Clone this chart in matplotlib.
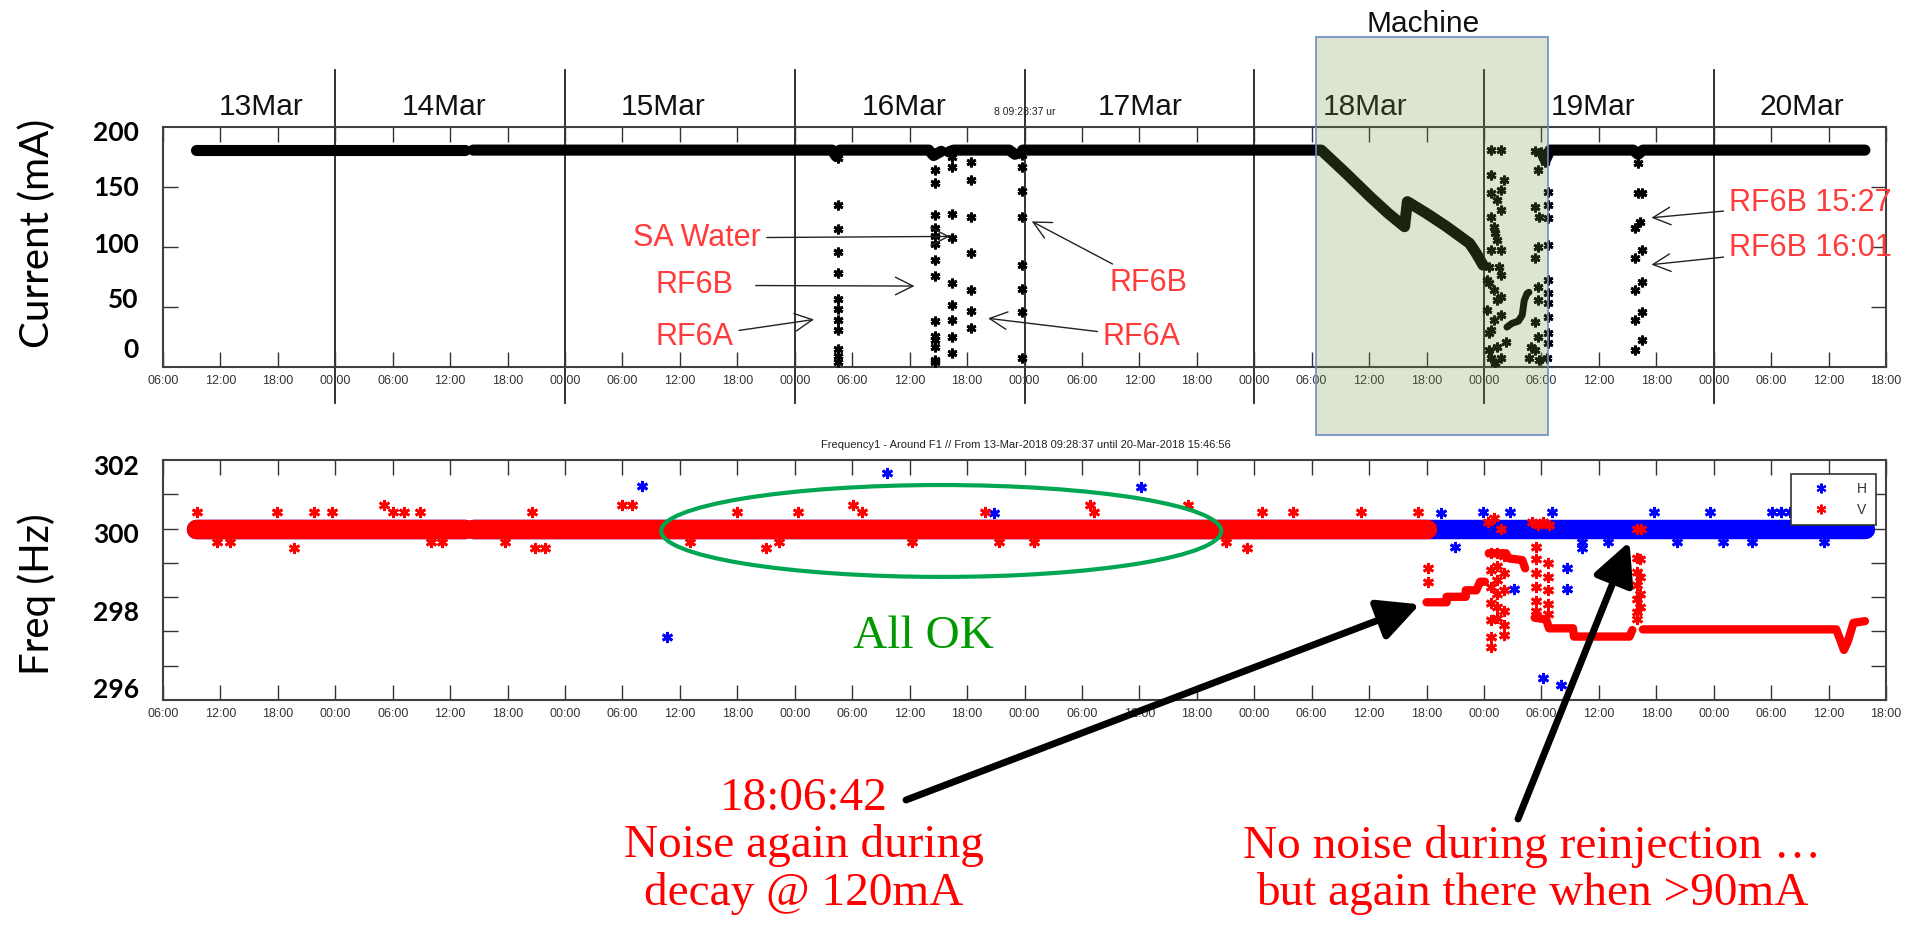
import matplotlib
matplotlib.use("Agg")
import matplotlib.pyplot as plt
from matplotlib.patches import Rectangle, Ellipse
from matplotlib.lines import Line2D
from matplotlib.transforms import blended_transform_factory

W, H = 1907, 935

# time axis: hours since 13-Mar 00:00
tick_hours = list(range(6, 187, 6))
tick_labels = [f"{h % 24:02d}:00" for h in tick_hours]
day_lines = [24, 48, 72, 96, 120, 144, 168]
day_names = ["13Mar", "14Mar", "15Mar", "16Mar", "17Mar", "18Mar", "19Mar", "20Mar"]
day_name_h = [16.2, 35.4, 58.2, 83.4, 108.1, 131.6, 155.4, 177.2]

cur_labels = ["200", "150", "100", "50", "0"]
freq_labels = ["302", "300", "298", "296"]

# ---------------- beam current (mA) ----------------
cur_band1_h = [9.47, 37.6]
cur_band1_ma = [180.5, 180.5]
cur_band2_h = [38.4, 75.9, 76.3, 76.7, 86.0, 86.5, 87.3]
cur_band2_ma = [180.5, 180.5, 175.5, 180.5, 180.5, 176.0, 179.5]
cur_band3_h = [88.1, 88.6, 94.4, 95.0]
cur_band3_ma = [179.0, 180.5, 180.5, 177.0]
cur_band4_h = [95.8, 127.0, 129.6, 132.1, 134.0, 135.7, 136.0, 138.0, 140.1, 142.5, 143.2, 143.9]
cur_band4_ma = [180.5, 180.5, 161.1, 141.7, 127.8, 116.7, 137.5, 127.8, 116.7, 102.8, 94.4, 84.7]
cur_band5_h = [150.4, 150.9, 159.6, 160.1, 160.6, 183.8]
cur_band5_ma = [172.0, 180.5, 180.5, 177.0, 180.5, 180.5]
cur_band6_h = [146.4, 146.9, 147.6, 148.0, 148.2, 148.5, 148.7]
cur_band6_ma = [33.0, 36.0, 38.0, 43.0, 55.0, 61.0, 62.0]

# beam trips (single samples)
trip_a_h, trip_a_ma = 76.5, [173.6, 134.7, 114.7, 95.3, 77.8, 56.4, 47.8, 38.9, 30.6, 14.5, 8.9, 4.2]
trip_b_h, trip_b_ma = 86.6, [163.9, 152.8, 126.4, 115.3, 108.9, 102.2, 88.9, 75.6, 38.3, 25.6, 22.2, 16.7, 5.6, 4.2]
trip_c_h, trip_c_ma = 88.4, [174.5, 166.1, 127.2, 107.0, 69.5, 51.4, 38.9, 25.0, 11.7]
trip_d_h, trip_d_ma = 90.4, [170.8, 155.6, 124.5, 95.0, 63.9, 46.7, 32.0]
trip_e_h, trip_e_ma = 95.7, [176.4, 166.7, 146.4, 125.0, 84.7, 64.7, 45.3, 7.5]

md_pts_h = [144.7, 145.8, 144.7, 146.1, 144.7, 145.4, 145.8, 144.7, 145.0, 145.4, 145.8, 144.7,
            144.5, 145.8, 144.5, 145.0, 145.8, 144.3, 145.0, 145.8, 144.7, 146.3, 144.5, 145.8,
            145.2, 144.3, 145.4, 145.6, 145.2, 145.8, 144.5, 145.4, 144.7,
            149.3, 149.8, 149.6, 149.3, 149.8, 149.6, 149.3, 149.6, 149.6, 149.3, 149.6, 148.9,
            149.3, 148.7, 149.8,
            150.7, 150.7, 150.7, 150.7, 150.7, 150.7, 150.7, 150.7, 150.7, 150.7, 150.6,
            150.0, 150.2, 150.4,
            160.1, 160.1, 160.5, 160.3, 159.8, 160.5, 159.8, 160.5, 159.8, 160.5, 159.8, 160.5, 159.8]
md_pts_ma = [180.6, 180.6, 159.7, 155.6, 144.4, 138.9, 130.6, 125.0, 116.7, 105.6, 97.2, 97.2,
             83.3, 76.4, 69.4, 63.9, 58.3, 47.2, 38.9, 43.1, 30.6, 20.8, 13.9, 6.9,
             2.8, 72.2, 55.6, 83.3, 111.0, 147.0, 27.8, 16.7, 6.9,
             180.0, 177.8, 163.9, 133.3, 125.0, 100.0, 90.3, 66.7, 55.6, 37.5, 25.0, 16.7,
             13.9, 6.9, 5.6,
             145.8, 134.7, 123.6, 101.4, 72.2, 61.1, 52.8, 41.7, 27.8, 19.4, 6.9,
             179.0, 175.0, 170.8,
             169.4, 144.4, 144.4, 120.8, 115.3, 97.2, 90.3, 70.8, 63.9, 45.8, 38.9, 22.2, 13.9]

# ---------------- frequency (Hz) ----------------
h_band1_h, h_band1_hz = [9.47, 37.6], [300.0, 300.0]
h_band2_h, h_band2_hz = [38.4, 183.8], [300.0, 300.0]
v_band1_h, v_band1_hz = [9.47, 37.6], [300.0, 300.0]
v_band2_h, v_band2_hz = [38.4, 138.1], [300.0, 300.0]
v_step1_h = [138.0, 140.1, 140.1, 142.1, 142.1, 143.2, 143.6, 144.1]
v_step1_hz = [297.85, 297.85, 298.01, 298.01, 298.2, 298.2, 298.45, 298.45]
v_step2_h = [144.5, 146.3, 146.6, 148.0, 148.3]
v_step2_hz = [299.28, 299.28, 299.13, 299.08, 298.84]
v_step3_h = [149.3, 150.5, 150.8, 153.3, 153.4, 159.2, 159.5]
v_step3_hz = [297.4, 297.35, 297.09, 297.09, 296.85, 296.85, 297.04]
v_step4_h = [160.6, 180.8, 181.3, 181.6, 182.0, 182.6, 183.8]
v_step4_hz = [297.06, 297.06, 296.7, 296.46, 296.7, 297.25, 297.3]

v_pts_h = [9.5, 17.9, 19.7, 21.8, 23.7, 29.1, 30.0, 31.2, 32.8, 34.0, 35.1, 44.5, 44.9, 45.9,
           54.0, 55.0, 11.6, 13.0, 41.7, 61.1, 66.0, 69.0, 70.4, 72.3, 78.1, 79.0, 84.2,
           91.9, 93.3, 97.0, 102.8, 103.3, 113.1, 117.1, 119.2, 120.8, 124.1, 131.2, 137.1,
           138.2, 138.2,
           144.7, 144.7, 144.7, 144.7, 144.7, 144.7, 144.7,
           145.4, 145.4, 145.4, 145.4, 145.4, 145.4,
           146.1, 146.1, 146.1, 146.1, 146.1, 146.1,
           144.4, 145.0, 145.8, 149.0, 149.6, 150.2, 150.8, 160.0, 160.4,
           149.4, 149.4, 149.4, 149.4, 149.4, 149.4,
           150.7, 150.7, 150.7, 150.7, 150.7,
           160.0, 160.0, 160.0, 160.0, 160.0, 160.0, 160.3, 160.3, 160.3, 160.3]
v_pts_hz = [300.49, 300.49, 299.42, 300.49, 300.49, 300.69, 300.49, 300.49, 300.49, 299.62,
            299.62, 300.49, 299.42, 299.42, 300.69, 300.69, 299.62, 299.62, 299.62, 299.62,
            300.49, 299.42, 299.62, 300.49, 300.69, 300.49, 299.62, 300.49, 299.62, 299.62,
            300.69, 300.49, 300.69, 299.62, 299.42, 300.49, 300.49, 300.49, 300.49,
            298.84, 298.43,
            299.28, 298.79, 298.31, 297.82, 297.33, 296.85, 296.56,
            299.28, 298.9, 298.5, 298.1, 297.7, 297.4,
            299.2, 298.7, 298.2, 297.6, 297.2, 296.9,
            300.2, 300.3, 300.0, 300.2, 300.1, 300.2, 300.1, 300.0, 300.0,
            299.47, 299.1, 298.7, 298.3, 297.9, 297.6,
            299.0, 298.6, 298.2, 297.8, 297.5,
            299.13, 298.74, 298.35, 297.96, 297.57, 297.37, 299.1, 298.6, 298.1, 297.7]

h_pts_h = [56.0, 58.7, 81.6, 108.2, 92.8, 95.6, 141.0, 143.9, 146.7, 147.1, 152.7, 152.7,
           150.2, 152.0, 154.2, 154.2, 151.1, 161.8, 167.6, 174.1, 175.0, 176.0, 169.0,
           164.2, 157.0, 179.5, 181.0, 139.5, 172.0, 183.0]
h_pts_hz = [301.25, 296.83, 301.63, 301.22, 300.45, 300.04, 299.47, 300.49, 300.49, 298.24,
            298.84, 298.24, 295.65, 295.44, 299.42, 299.6, 300.49, 300.49, 300.49, 300.49,
            300.49, 300.49, 299.6, 299.62, 299.6, 299.6, 300.5, 300.45, 299.6, 300.45]


def fx(px):
    return px / W


def fy(py):
    return 1 - py / H


star = (6, 2, 0)
plt.rcParams["font.family"] = ["Liberation Sans", "DejaVu Sans"]
fig = plt.figure(figsize=(W / 100, H / 100), dpi=100)
ax1 = fig.add_axes([fx(163), fy(366.7), 1723 / W, 240 / H])
ax2 = fig.add_axes([fx(163), fy(700), 1723 / W, 240 / H])

for ax in (ax1, ax2):
    ax.set_xlim(6, 186)
    ax.set_xticks(tick_hours)
    ax.set_xticklabels(tick_labels)
    ax.tick_params(axis="x", direction="in", length=11, width=1, top=True, bottom=True,
                   labelsize=9, pad=6, color="#333333", labelcolor="#333333")
    ax.tick_params(axis="y", direction="in", length=11, width=1, left=True, right=True,
                   labelleft=False, color="#333333")
    for sp in ax.spines.values():
        sp.set_linewidth(1.5)
        sp.set_color("#404040")

# ---- top panel
ax1.set_ylim(0, 200)
ax1.set_yticks([50, 100, 150])
band_kw = dict(color="black", lw=8, solid_capstyle="round", zorder=3)
ax1.plot(cur_band1_h, cur_band1_ma, **band_kw)
ax1.plot(cur_band2_h, cur_band2_ma, **band_kw)
ax1.plot(cur_band3_h, cur_band3_ma, **band_kw)
ax1.plot(cur_band4_h, cur_band4_ma, **band_kw)
ax1.plot(cur_band5_h, cur_band5_ma, **band_kw)
ax1.plot(cur_band6_h, cur_band6_ma, color="black", lw=5, solid_capstyle="round", zorder=3)
for th, tv in [(trip_a_h, trip_a_ma), (trip_b_h, trip_b_ma), (trip_c_h, trip_c_ma),
               (trip_d_h, trip_d_ma), (trip_e_h, trip_e_ma)]:
    ax1.plot([th] * len(tv), tv, ls="none", marker=star, ms=7, mew=2, color="black", zorder=3)
ax1.plot(md_pts_h, md_pts_ma, ls="none", marker=star, ms=7, mew=2, color="black", zorder=3)

for d in day_lines:
    ax1.axvline(d, ymin=-0.151, ymax=1.236, color="#222222", lw=1.3, clip_on=False, zorder=1)
for name, h in zip(day_names, day_name_h):
    ax1.text(h, 1.049, name, transform=ax1.get_xaxis_transform(), ha="center", va="baseline",
             fontsize=21.5, color="#111111")

for lab, yy in zip(cur_labels, [0.974, 0.745, 0.507, 0.278, 0.070]):
    ax1.text(-0.014, yy, lab, transform=ax1.transAxes, ha="right", va="center",
             fontsize=19, fontweight="bold", family="Lato")
fig.text(fx(37), fy(233), "Current (mA)", rotation=90, ha="center", va="center",
         fontsize=29, family="Lato")
fig.text(fx(1025), fy(112), "8 09:28:37 ur", ha="center", va="center", fontsize=7.5, color="#222222")

red = "#ff3b3b"
arr = dict(arrowstyle="->,head_length=0.7,head_width=0.35", lw=1, color="#222222", mutation_scale=18)
ax1.annotate("SA Water", xy=(88.5, 108.6), xytext=(68.5, 107.3), ha="right", va="center",
             fontsize=22, color=red, arrowprops=arr)
ax1.annotate("RF6B", xy=(84.8, 67.2), xytext=(65.6, 67.8), ha="right", va="center",
             fontsize=22, color=red, arrowprops=dict(arr, shrinkA=14))
ax1.annotate("RF6A", xy=(74.3, 39.7), xytext=(65.6, 24.8), ha="right", va="center",
             fontsize=22, color=red, arrowprops=arr)
ax1.annotate("RF6B", xy=(96.5, 122.2), xytext=(104.9, 69.7), ha="left", va="center",
             fontsize=22, color=red, arrowprops=arr)
ax1.annotate("RF6A", xy=(91.9, 40.6), xytext=(104.2, 24.8), ha="left", va="center",
             fontsize=22, color=red, arrowprops=arr)
ax1.annotate("RF6B 15:27", xy=(161.2, 123.9), xytext=(169.6, 136.4), ha="left", va="center",
             fontsize=22, color=red, arrowprops=arr, annotation_clip=False)
ax1.annotate("RF6B 16:01", xy=(161.2, 84.8), xytext=(169.6, 98.9), ha="left", va="center",
             fontsize=22, color=red, arrowprops=arr, annotation_clip=False)

# ---- bottom panel
ax2.set_ylim(295, 302)
ax2.set_yticks([296, 297, 298, 299, 300, 301])
hb = dict(color="blue", lw=14, solid_capstyle="round", zorder=2)
vb = dict(color="red", lw=14, solid_capstyle="round", zorder=3)
ax2.plot(h_band1_h, h_band1_hz, **hb)
ax2.plot(h_band2_h, h_band2_hz, **hb)
ax2.plot(h_pts_h, h_pts_hz, ls="none", marker=star, ms=8, mew=2, color="blue", zorder=2)
ax2.plot(v_band1_h, v_band1_hz, **vb)
ax2.plot(v_band2_h, v_band2_hz, **vb)
for sh, sv in [(v_step1_h, v_step1_hz), (v_step2_h, v_step2_hz),
               (v_step3_h, v_step3_hz), (v_step4_h, v_step4_hz)]:
    ax2.plot(sh, sv, color="red", lw=6, solid_capstyle="round", zorder=3)
ax2.plot(v_pts_h, v_pts_hz, ls="none", marker=star, ms=8, mew=2, color="red", zorder=3)

for lab, yy in zip(freq_labels, [0.972, 0.6875, 0.364, 0.042]):
    ax2.text(-0.014, yy, lab, transform=ax2.transAxes, ha="right", va="center",
             fontsize=19, fontweight="bold", family="Lato")
fig.text(fx(37), fy(594), "Freq (Hz)", rotation=90, ha="center", va="center",
         fontsize=29, family="Lato")
ax2.text(96.1, 1.0625, "Frequency1 - Around F1 // From 13-Mar-2018 09:28:37 until 20-Mar-2018 15:46:56",
         transform=ax2.get_xaxis_transform(), ha="center", va="center", fontsize=8, color="#222222")

handles = [Line2D([], [], ls="none", marker=star, ms=7, mew=1.5, color="blue", label="H"),
           Line2D([], [], ls="none", marker=star, ms=7, mew=1.5, color="red", label="V")]
leg = ax2.legend(handles=handles, loc="upper right", bbox_to_anchor=(0.998, 0.972),
                 fontsize=10, handlelength=3.2, handletextpad=1.0, borderpad=0.6,
                 labelspacing=0.5, fancybox=False, framealpha=1, edgecolor="#333333")
leg.get_frame().set_linewidth(1.2)
for t in leg.get_texts():
    t.set_color("#333333")

ax2.add_patch(Ellipse((87.3, 299.93), width=58.5, height=2.68, fill=False,
                      edgecolor="#00a651", lw=3, clip_on=False, zorder=5))
fig.text(fx(923), fy(637), "All OK", ha="center", va="center", fontsize=34,
         color="#009900", family="Liberation Serif")

fig.text(fx(804), fy(846), "18:06:42\nNoise again during\ndecay @ 120mA", ha="center", va="center",
         fontsize=34, color="red", family="Liberation Serif", linespacing=1.13)
fig.text(fx(1532), fy(870), "No noise during reinjection \u2026\nbut again there when >90mA",
         ha="center", va="center", fontsize=34, color="red", family="Liberation Serif",
         linespacing=1.13)

big = dict(arrowstyle="-|>,head_length=0.9,head_width=0.45", lw=5, color="black",
           mutation_scale=28, shrinkA=0, shrinkB=0)
ax2.annotate("", xy=(137.3, 297.79), xytext=(906, H - 800), textcoords="figure pixels",
             arrowprops=big, annotation_clip=False)
ax2.annotate("", xy=(159.2, 299.62), xytext=(1518, H - 819), textcoords="figure pixels",
             arrowprops=big, annotation_clip=False)

# machine day box
tr = blended_transform_factory(ax1.transData, fig.transFigure)
fig.add_artist(Rectangle((126.5, fy(435)), 24.2, fy(37) - fy(435), transform=tr,
                         facecolor=(0.43, 0.59, 0.27), alpha=0.24, edgecolor="none", zorder=5))
fig.add_artist(Rectangle((126.5, fy(435)), 24.2, fy(37) - fy(435), transform=tr,
                         facecolor="none", edgecolor="#6a8cc8", lw=1.2, zorder=6))
fig.text(fx(1423), fy(31.7), "Machine", ha="center", va="baseline", fontsize=21.5, color="#111111")

fig.savefig("out.png", dpi=100)
